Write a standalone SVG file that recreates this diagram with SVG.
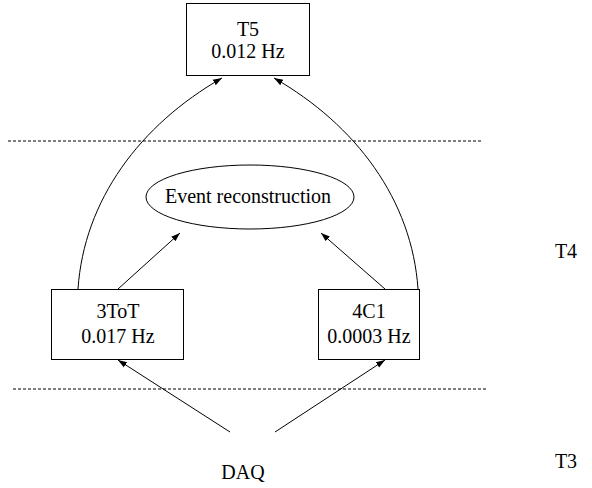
<svg xmlns="http://www.w3.org/2000/svg" width="592" height="488" viewBox="0 0 592 488">
<defs>
<style>
text{font-family:"Liberation Serif","Times New Roman",serif;font-size:20px;fill:#000;text-anchor:middle}
.box{fill:#fff;stroke:#000;stroke-width:1}
.edge{fill:none;stroke:#000;stroke-width:1}
.dash{fill:none;stroke:#000;stroke-width:1;stroke-dasharray:3,2}
</style>
<marker id="ah" viewBox="0 0 10 10" refX="10" refY="5" markerWidth="9" markerHeight="9" markerUnits="userSpaceOnUse" orient="auto">
<path d="M0,1.5 L10,5 L0,8.5 z" fill="#000"/>
</marker>
</defs>
<g id="separators">
<line class="dash" x1="8" y1="141" x2="483" y2="141"/>
<line class="dash" x1="13" y1="389" x2="487" y2="389"/>
</g>
<g id="connectors">
<path class="edge" d="M78,289 C84,200 140,125 222,78" marker-end="url(#ah)"/>
<path class="edge" d="M418,289 C412,200 356,125 274,78" marker-end="url(#ah)"/>
<line class="edge" x1="118" y1="289" x2="180" y2="233" marker-end="url(#ah)"/>
<line class="edge" x1="385" y1="289" x2="321" y2="233" marker-end="url(#ah)"/>
<line class="edge" x1="230" y1="432" x2="118" y2="360" marker-end="url(#ah)"/>
<line class="edge" x1="275" y1="432" x2="385" y2="360" marker-end="url(#ah)"/>
</g>
<g id="T5">
<rect class="box" x="186.5" y="3.5" width="123" height="72"/>
<text x="248" y="36">T5</text>
<text x="248" y="58">0.012 Hz</text>
</g>
<g id="event">
<ellipse class="box" cx="250" cy="197" rx="104" ry="32"/>
<text x="248" y="203">Event reconstruction</text>
</g>
<g id="ToT">
<rect class="box" x="51.5" y="289.5" width="132" height="70"/>
<text x="118" y="318">3ToT</text>
<text x="118" y="343">0.017 Hz</text>
</g>
<g id="C1">
<rect class="box" x="318.5" y="289.5" width="101" height="70"/>
<text x="369" y="318">4C1</text>
<text x="369" y="343">0.0003 Hz</text>
</g>
<g id="DAQ">
<text x="243" y="479">DAQ</text>
</g>
<g id="levels">
<text x="566" y="258">T4</text>
<text x="566" y="468">T3</text>
</g>
</svg>
